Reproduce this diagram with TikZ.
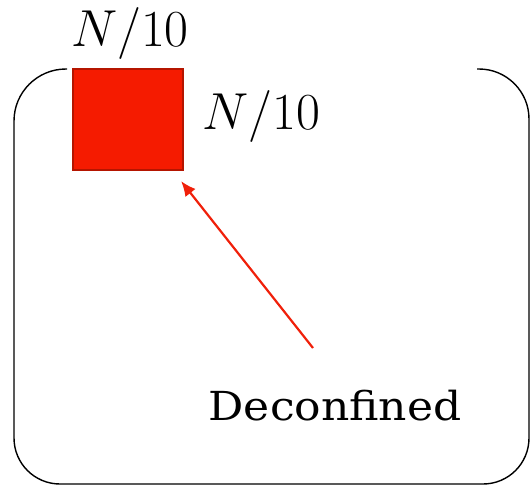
\RequirePackage{fix-cm}
\documentclass[tikz,border=0pt]{standalone}
\usepackage{amsmath}
\usepackage{fontspec}
\usepackage{tikz}
\usepackage{xcolor}
\usetikzlibrary{positioning,arrows.meta}
\newfontfamily\slabfont[FakeStretch=1.1]{DejaVu Serif}
\definecolor{boxred}{HTML}{F51B00}
\definecolor{edgered}{HTML}{B51500}
\definecolor{arrowred}{HTML}{F0200A}

\begin{document}
\begin{tikzpicture}[x=1pt,y=-1pt,
    frame/.style={line width=1.4pt},
    cell/.style={fill=boxred,draw=edgered,line width=2.2pt,minimum width=110pt,minimum height=101pt,inner sep=0pt},
    size/.style={inner sep=0pt,font=\fontsize{52}{60}\selectfont},
    pointer/.style={draw=arrowred,line width=2.2pt,-{Latex[length=15pt,width=13pt]}}]
        \useasboundingbox (0,0) rectangle (530,485);
        % outline, open at the top
        \draw[frame] (67,69) [rounded corners=52pt] -- (14,69) [rounded corners=46pt] -- (14,484) -- (529,484) [rounded corners=50pt] -- (529,69) -- (477,69);
        \node[cell] (box) at (128,119.5) {};
        \node[size,above=8pt of box,xshift=2pt] (top) {$N/10$};
        \node[size,right=18pt of box,yshift=3pt] (side) {$N/10$};
        \node[anchor=base,inner sep=0pt,font=\slabfont\fontsize{40}{48}\selectfont] (phase) at (335,420) {Deconfined};
        \coordinate (tail) at (313,348);
        \draw[pointer] (tail) -- ([shift={(-3,10)}]box.south east);
    \end{tikzpicture}
\end{document}
